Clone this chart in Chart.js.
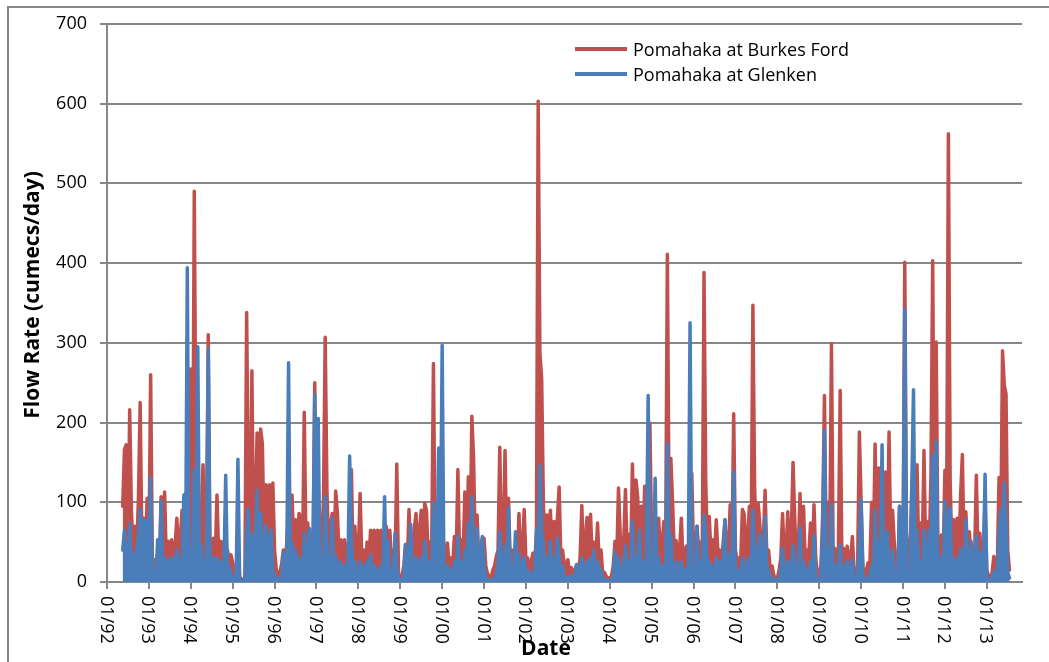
<!DOCTYPE html>
<html>
<head>
<meta charset="utf-8">
<title>Pomahaka flow rates</title>
<script src="https://cdn.jsdelivr.net/npm/chart.js@4.4.1/dist/chart.umd.min.js"></script>
<style>
  html, body { margin: 0; padding: 0; background: #fff; }
  #myChart { display: block; }
</style>
</head>
<body>
<canvas id="myChart" width="1049" height="662"></canvas>
<script>
// FLOW DATA - half monthly values, first one is mid May 1992
const startYear = 1992 + 9 / 24;
const stepYears = 1 / 24;

const burkesFord = [
  /* 1992 */ 95, 166, 172, 45, 216, 88, 40, 70, 40, 104, 225, 45, 80, 40, 105,
  /* 1993 */ 35, 260, 25, 28, 15, 30, 20, 107, 30, 113, 25, 51, 25, 53, 25, 45, 80, 30, 55, 90, 30, 111, 60, 30,
  /* 1994 */ 267, 45, 490, 140, 100, 40, 80, 147, 40, 60, 310, 40, 30, 55, 30, 109, 30, 51, 25, 51, 25, 40, 25, 34,
  /* 1995 */ 25, 12, 12, 40, 6, 4, 3, 5, 338, 100, 50, 265, 45, 90, 187, 50, 192, 174, 50, 122, 50, 122, 60, 124,
  /* 1996 */ 40, 15, 10, 12, 22, 40, 20, 50, 90, 40, 109, 40, 78, 40, 86, 80, 30, 213, 40, 74, 35, 60, 30, 250,
  /* 1997 */ 50, 120, 35, 60, 100, 307, 115, 40, 70, 86, 35, 114, 86, 30, 53, 25, 53, 25, 45, 60, 141, 25, 70, 25,
  /* 1998 */ 40, 111, 25, 40, 20, 50, 25, 65, 30, 65, 30, 65, 30, 65, 30, 60, 70, 25, 65, 25, 40, 20, 148, 10,
  /* 1999 */ 5, 8, 20, 47, 20, 91, 25, 40, 65, 86, 30, 65, 90, 35, 99, 90, 35, 50, 40, 274, 35, 60, 40, 60,
  /* 2000 */ 80, 40, 30, 49, 20, 30, 20, 57, 25, 141, 30, 53, 30, 113, 35, 132, 40, 208, 155, 35, 84, 25, 40, 55,
  /* 2001 */ 55, 20, 10, 8, 5, 15, 20, 32, 40, 169, 35, 40, 165, 35, 105, 25, 40, 25, 30, 25, 86, 25, 40, 91,
  /* 2002 */ 25, 30, 20, 25, 36, 25, 60, 603, 286, 255, 97, 35, 84, 30, 90, 30, 76, 30, 80, 119, 30, 40, 20, 20,
  /* 2003 */ 28, 10, 18, 10, 15, 21, 15, 30, 96, 25, 53, 81, 25, 85, 25, 50, 25, 74, 20, 40, 10, 12, 7, 5,
  /* 2004 */ 4, 8, 20, 51, 25, 118, 60, 30, 50, 116, 35, 60, 30, 148, 40, 128, 107, 35, 95, 40, 120, 40, 35, 199,
  /* 2005 */ 50, 60, 60, 30, 80, 35, 50, 76, 35, 411, 80, 155, 99, 35, 52, 25, 40, 80, 25, 40, 45, 30, 60, 136,
  /* 2006 */ 35, 40, 70, 35, 50, 30, 388, 126, 35, 82, 35, 53, 30, 78, 35, 40, 25, 50, 78, 35, 40, 97, 35, 211,
  /* 2007 */ 40, 25, 30, 25, 91, 85, 30, 57, 95, 35, 347, 120, 35, 99, 72, 25, 53, 115, 30, 40, 15, 20, 8, 5,
  /* 2008 */ 4, 15, 30, 86, 25, 40, 88, 25, 60, 150, 78, 25, 40, 111, 25, 95, 25, 40, 30, 74, 25, 97, 30, 10,
  /* 2009 */ 5, 20, 86, 234, 35, 100, 35, 299, 30, 42, 25, 40, 240, 25, 42, 25, 45, 25, 30, 57, 12, 4, 20, 188,
  /* 2010 */ 100, 20, 5, 15, 24, 20, 100, 35, 173, 45, 143, 45, 150, 45, 138, 45, 188, 40, 90, 49, 15, 5, 95, 30,
  /* 2011 */ 40, 401, 61, 35, 30, 115, 150, 35, 147, 35, 74, 35, 165, 35, 76, 35, 134, 403, 60, 301, 40, 35, 59, 30,
  /* 2012 */ 140, 90, 562, 128, 35, 78, 35, 80, 35, 109, 160, 35, 88, 35, 63, 30, 40, 30, 134, 30, 61, 25, 40, 100,
  /* 2013 */ 15, 8, 5, 10, 32, 10, 20, 131, 60, 290, 247, 236, 40, 15
];

const glenken = [
  /* 1992 */ 40, 65, 30, 6, 73, 8, 35, 6, 40, 58, 91, 8, 78, 8, 78,
  /* 1993 */ 20, 130, 6, 12, 5, 53, 6, 102, 8, 30, 5, 28, 5, 30, 5, 25, 40, 5, 30, 8, 109, 8, 394, 10,
  /* 1994 */ 40, 8, 140, 10, 295, 10, 45, 8, 6, 35, 292, 8, 5, 30, 5, 30, 5, 25, 5, 20, 134, 5, 20, 5,
  /* 1995 */ 8, 4, 6, 154, 3, 2, 2, 3, 60, 91, 10, 60, 8, 45, 115, 10, 86, 40, 10, 70, 8, 55, 65, 12,
  /* 1996 */ 10, 5, 4, 3, 6, 36, 5, 30, 275, 8, 49, 6, 40, 8, 30, 25, 6, 61, 8, 30, 67, 8, 35, 235,
  /* 1997 */ 30, 205, 8, 30, 25, 107, 30, 6, 25, 80, 5, 32, 20, 5, 25, 4, 20, 5, 20, 158, 53, 5, 25, 5,
  /* 1998 */ 8, 25, 5, 20, 4, 25, 5, 34, 4, 20, 4, 15, 4, 20, 5, 107, 10, 51, 5, 15, 5, 61, 20, 3,
  /* 1999 */ 2, 3, 5, 47, 5, 30, 72, 6, 25, 30, 5, 25, 30, 5, 51, 30, 6, 25, 6, 99, 15, 30, 168, 40,
  /* 2000 */ 297, 15, 6, 20, 4, 15, 4, 25, 5, 57, 5, 25, 5, 40, 6, 74, 20, 107, 30, 6, 67, 5, 30, 57,
  /* 2001 */ 20, 5, 3, 2, 2, 3, 5, 8, 25, 63, 5, 20, 45, 6, 93, 5, 20, 8, 63, 5, 35, 5, 20, 30,
  /* 2002 */ 5, 15, 4, 10, 12, 5, 65, 40, 146, 60, 49, 6, 30, 5, 51, 5, 30, 5, 55, 30, 5, 20, 4, 5,
  /* 2003 */ 6, 3, 8, 3, 6, 22, 3, 15, 30, 6, 20, 25, 5, 30, 5, 40, 5, 25, 4, 15, 3, 4, 2, 2,
  /* 2004 */ 2, 3, 6, 38, 5, 30, 15, 5, 20, 45, 6, 25, 5, 76, 10, 30, 20, 65, 6, 25, 5, 30, 234, 30,
  /* 2005 */ 20, 10, 130, 6, 30, 5, 20, 20, 5, 173, 30, 59, 10, 5, 25, 4, 20, 25, 4, 15, 4, 20, 325, 20,
  /* 2006 */ 10, 6, 70, 5, 25, 6, 84, 61, 6, 25, 5, 20, 5, 30, 5, 25, 5, 30, 78, 6, 25, 35, 6, 139,
  /* 2007 */ 6, 5, 15, 6, 30, 25, 5, 20, 30, 6, 90, 35, 5, 40, 60, 5, 20, 82, 5, 15, 3, 5, 3, 2,
  /* 2008 */ 2, 5, 15, 42, 5, 15, 26, 5, 15, 45, 20, 5, 15, 68, 5, 25, 5, 15, 5, 25, 5, 58, 6, 3,
  /* 2009 */ 2, 6, 65, 190, 6, 40, 6, 97, 5, 20, 5, 20, 46, 5, 20, 5, 26, 5, 15, 28, 3, 2, 5, 50,
  /* 2010 */ 103, 5, 2, 4, 6, 8, 20, 6, 90, 10, 51, 6, 172, 6, 51, 63, 6, 8, 40, 10, 3, 2, 95, 8,
  /* 2011 */ 20, 342, 10, 6, 5, 115, 241, 6, 65, 5, 25, 5, 65, 5, 38, 65, 30, 159, 30, 176, 6, 32, 20, 6,
  /* 2012 */ 101, 25, 80, 93, 6, 28, 6, 30, 6, 42, 25, 6, 78, 6, 30, 51, 5, 20, 57, 5, 38, 5, 20, 135,
  /* 2013 */ 5, 3, 2, 4, 13, 4, 8, 59, 90, 60, 124, 72, 12, 5
];

const tickYears = [1992, 1993, 1994, 1995, 1996, 1997, 1998, 1999, 2000, 2001, 2002,
                   2003, 2004, 2005, 2006, 2007, 2008, 2009, 2010, 2011, 2012, 2013];
const tickLabels = ['01/92', '01/93', '01/94', '01/95', '01/96', '01/97', '01/98', '01/99', '01/00', '01/01', '01/02',
                    '01/03', '01/04', '01/05', '01/06', '01/07', '01/08', '01/09', '01/10', '01/11', '01/12', '01/13'];

const seriesNames = ['Pomahaka at Burkes Ford', 'Pomahaka at Glenken'];
const seriesColors = ['#C0504D', '#4A7EBB'];
const gridGrey = '#878787';


// turn a value list into {x, y} points on the decimal year axis
function toPoints(values) {
    return values.map((v, i) => ({ x: startYear + i * stepYears, y: v }));
}


// FRAME, ROTATED DATE LABELS, AXIS TITLES AND LEGEND
const extras = {
    id: 'extras',
    beforeDraw(chart) {
        const ctx = chart.ctx;
        ctx.save();
        ctx.strokeStyle = gridGrey;
        ctx.lineWidth = 2;
        ctx.beginPath();
        ctx.moveTo(8, 662);
        ctx.lineTo(8, 7);
        ctx.lineTo(1049, 7);
        ctx.stroke();
        ctx.restore();
    },
    afterDraw(chart) {
        const ctx = chart.ctx;
        const xScale = chart.scales.x;
        const area = chart.chartArea;
        ctx.save();
        ctx.fillStyle = '#000';

        // date labels read top to bottom
        ctx.font = '18px "Open Sans"';
        ctx.textAlign = 'left';
        ctx.textBaseline = 'alphabetic';
        tickYears.forEach((yr, i) => {
            ctx.save();
            ctx.translate(xScale.getPixelForValue(yr), area.bottom + 14);
            ctx.rotate(Math.PI / 2);
            ctx.fillText(tickLabels[i], 0, 6.5);
            ctx.restore();
        });

        // axis titles
        ctx.font = 'bold 21px "Open Sans"';
        ctx.textAlign = 'center';
        ctx.fillText('Date', 546, 655);
        ctx.save();
        ctx.translate(39, 295);
        ctx.rotate(-Math.PI / 2);
        ctx.fillText('Flow Rate (cumecs/day)', 0, 0);
        ctx.restore();

        // legend inside the plot
        ctx.font = '18px "Open Sans"';
        ctx.textAlign = 'left';
        ctx.lineWidth = 4;
        seriesNames.forEach((name, i) => {
            const y = 49 + i * 25;
            ctx.strokeStyle = seriesColors[i];
            ctx.beginPath();
            ctx.moveTo(575, y);
            ctx.lineTo(627, y);
            ctx.stroke();
            ctx.fillText(name, 633, y + 7);
        });
        ctx.restore();
    }
};


Chart.defaults.font.family = '"Open Sans", sans-serif';
Chart.defaults.color = '#000';

const ctx = document.getElementById('myChart').getContext('2d');

// the daily record is so dense that it reads as a solid band, so fill under each line
const myChart = new Chart(ctx, {
    type: 'line',
    data: {
        datasets: [{
            label: seriesNames[0],
            data: toPoints(burkesFord),
            borderColor: seriesColors[0],
            backgroundColor: seriesColors[0],
            fill: 'origin',
            order: 1
        }, {
            label: seriesNames[1],
            data: toPoints(glenken),
            borderColor: seriesColors[1],
            backgroundColor: seriesColors[1],
            fill: 'origin',
            order: 0   // drawn on top of the red one
        }]
    },
    options: {
        responsive: false,
        animation: false,
        events: [],
        elements: {
            point: { radius: 0 },
            line: {
                borderWidth: 3.5,
                tension: 0,
                borderJoinStyle: 'round',
                borderCapStyle: 'round'
            }
        },
        layout: {
            padding: { top: 22, right: 27, left: 0, bottom: 0 }
        },
        plugins: {
            legend: { display: false },
            tooltip: { enabled: false }
        },
        scales: {
            x: {
                type: 'linear',
                min: 1992,
                max: 2013.84,
                afterBuildTicks: (scale) => {
                    scale.ticks = tickYears.map(v => ({ value: v }));
                },
                ticks: { display: false },
                grid: { drawOnChartArea: false, color: gridGrey, lineWidth: 2, tickLength: 7 },
                border: { color: gridGrey, width: 2 },
                afterFit: (scale) => { scale.height = 80; }
            },
            y: {
                min: 0,
                max: 700,
                ticks: { stepSize: 100, padding: 13, font: { size: 18 } },
                grid: { color: gridGrey, lineWidth: 2, tickLength: 7 },
                border: { color: gridGrey, width: 2 },
                afterFit: (scale) => { scale.width = 107; }
            }
        }
    },
    plugins: [extras]
});
</script>
</body>
</html>
